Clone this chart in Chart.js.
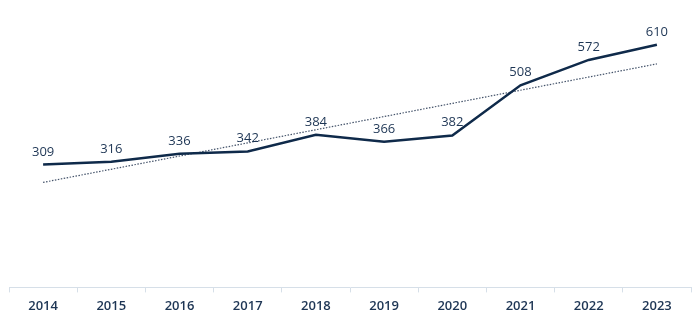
<!DOCTYPE html>
<html>
<head>
<meta charset="utf-8">
<script src="https://cdn.jsdelivr.net/npm/chart.js@4"></script>
<style>
  html, body { margin: 0; padding: 0; background: #fff; }
  #wrap { width: 700px; height: 322px; position: relative; }
</style>
</head>
<body>
<div id="wrap"><canvas id="lineChart"></canvas></div>
<script>
// ── Data ──
const years = ['2014', '2015', '2016', '2017', '2018', '2019', '2020', '2021', '2022', '2023'];
const values = [309, 316, 336, 342, 384, 366, 382, 508, 572, 610];
// dotted trend line: only its two ends, the line spans the gap
const trend = [264, null, null, null, null, null, null, null, null, 562];

const navy = '#0f2a4a';
const textColor = '#1d3554';

// Draws the value above each point of the main line
const valueLabels = {
  id: 'valueLabels',
  afterDatasetsDraw(chart) {
    const ctx = chart.ctx;
    const meta = chart.getDatasetMeta(0);
    ctx.save();
    ctx.font = '500 13px "Open Sans", sans-serif';
    ctx.fillStyle = textColor;
    ctx.textAlign = 'center';
    ctx.textBaseline = 'alphabetic';
    meta.data.forEach((pt, i) => {
      ctx.fillText(values[i], pt.x, pt.y - 9);
    });
    ctx.restore();
  }
};

new Chart(document.getElementById('lineChart').getContext('2d'), {
  type: 'line',
  data: {
    labels: years,
    datasets: [
      {
        data: values,
        borderColor: navy,
        borderWidth: 2.5,
        pointRadius: 0,
        tension: 0,
        fill: false
      },
      {
        data: trend,
        borderColor: '#44536a',
        borderWidth: 1.2,
        borderDash: [1.5, 1.5],
        pointRadius: 0,
        spanGaps: true,
        fill: false
      }
    ]
  },
  options: {
    responsive: true,
    maintainAspectRatio: false,
    animation: false,
    layout: { padding: { top: 9, left: 9, right: 9, bottom: 2 } },
    plugins: { legend: { display: false }, tooltip: { enabled: false } },
    scales: {
      x: {
        offset: true,
        grid: {
          offset: true,
          drawOnChartArea: false,
          color: '#d6dfe8',
          tickLength: 5
        },
        border: { color: '#d6dfe8', width: 1 },
        ticks: {
          color: textColor,
          padding: 6,
          font: { family: 'Open Sans', size: 13, weight: '600' }
        }
      },
      y: {
        display: false,
        min: 0,
        max: 700
      }
    }
  },
  plugins: [valueLabels]
});
</script>
</body>
</html>
